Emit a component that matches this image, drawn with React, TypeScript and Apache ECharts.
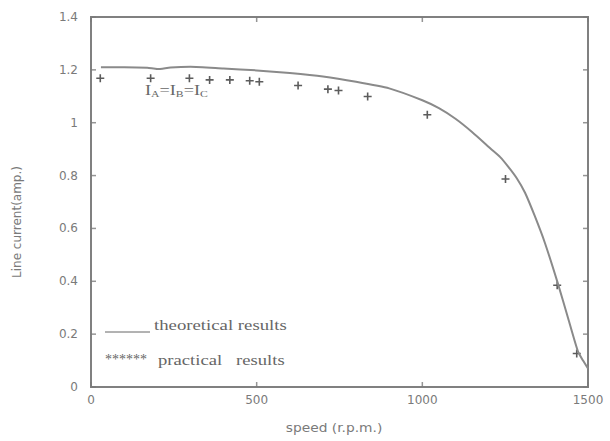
import React, { useEffect, useRef } from "react";
import * as echarts from "echarts";

const practicalSpeed = [28, 180, 297, 358, 419, 479, 508, 625, 715, 747, 835, 1015, 1251, 1407, 1466];
const practicalCurrent = [1.168, 1.168, 1.168, 1.162, 1.162, 1.159, 1.155, 1.141, 1.127, 1.122, 1.099, 1.03, 0.787, 0.385, 0.127];

const theoreticalSpeed = [30, 100, 170, 200, 240, 300, 400, 500, 600, 700, 800, 900, 1000, 1050, 1100, 1150, 1208, 1235, 1259, 1285, 1310, 1339, 1370, 1409, 1440, 1469, 1485, 1500];
const theoreticalCurrent = [1.21, 1.21, 1.208, 1.203, 1.209, 1.212, 1.205, 1.198, 1.188, 1.175, 1.155, 1.13, 1.085, 1.055, 1.015, 0.965, 0.9, 0.87, 0.834, 0.79, 0.735, 0.648, 0.545, 0.392, 0.26, 0.137, 0.1, 0.07];

const xMin = 0, xMax = 1500, xStep = 500;
const yMin = 0, yMax = 1.4, yStep = 0.2;
const xTickValues = [0, 500, 1000, 1500];
const yTickValues = [0, 0.2, 0.4, 0.6, 0.8, 1, 1.2, 1.4];

const xName = "speed (r.p.m.)";
const yName = "Line current(amp.)";
const legendLine = "theoretical results";
const legendStars = "******";
const legendStar = "practical   results";

const sans = "'DejaVu Sans', Arial, sans-serif";
const serif = "'Liberation Serif', 'DejaVu Serif', serif";

export default function App() {
  const ref = useRef<HTMLDivElement>(null);
  useEffect(() => {
    if (!ref.current) return;
    const chart = echarts.init(ref.current, null, { renderer: "svg" });
    const label = { color: "#7a7a7a", fontFamily: sans, fontSize: 12 };
    const tickLen = 5;
    const tickColor = "#7a7a7a";
    const tickSeries = (data: number[][], size: number[], offset: number[]) => ({
      type: "scatter",
      silent: true,
      clip: false,
      z: 5,
      symbol: "rect",
      symbolSize: size,
      symbolOffset: offset,
      itemStyle: { color: tickColor },
      data,
    });
    const option: any = {
      animation: false,
      backgroundColor: "#fff",
      grid: { left: 91, right: 22, top: 17, bottom: 54, containLabel: false, show: true, borderColor: "#808080", borderWidth: 2 },
      xAxis: {
        type: "value", min: xMin, max: xMax, interval: xStep,
        axisLine: { show: false }, axisTick: { show: false }, splitLine: { show: false },
        axisLabel: { ...label, margin: 7, formatter: (v: number) => String(v) },
      },
      yAxis: {
        type: "value", min: yMin, max: yMax, interval: yStep,
        axisLine: { show: false }, axisTick: { show: false }, splitLine: { show: false },
        axisLabel: { ...label, margin: 13 },
      },
      series: [
        tickSeries(xTickValues.map((v) => [v, yMin]), [1.5, tickLen], [0, -tickLen / 2]),
        tickSeries(xTickValues.map((v) => [v, yMax]), [1.5, tickLen], [0, tickLen / 2]),
        tickSeries(yTickValues.map((v) => [xMin, v]), [tickLen, 1.5], [tickLen / 2, 0]),
        tickSeries(yTickValues.map((v) => [xMax, v]), [tickLen, 1.5], [-tickLen / 2, 0]),
        {
          type: "line",
          data: theoreticalSpeed.map((s, i) => [s, theoreticalCurrent[i]]),
          showSymbol: false,
          smooth: 0.2,
          lineStyle: { color: "#8a8a8a", width: 2 },
        },
        {
          type: "scatter",
          data: practicalSpeed.map((s, i) => [s, practicalCurrent[i]]),
          symbol: "path://M4,0 L6,0 L6,4 L10,4 L10,6 L6,6 L6,10 L4,10 L4,6 L0,6 L0,4 L4,4 Z",
          symbolSize: 8,
          itemStyle: { color: "#333" },
        },
      ],
      graphic: [
        {
          type: "text", x: 334, y: 428, scaleX: 1.15,
          style: { text: xName, fill: "#7a7a7a", font: "12px " + sans, align: "center", verticalAlign: "middle" },
        },
        {
          type: "text", x: 17, y: 222, rotation: Math.PI / 2,
          style: { text: yName, fill: "#7a7a7a", font: "12px " + sans, align: "center", verticalAlign: "middle" },
        },
        {
          type: "line",
          shape: { x1: 105, y1: 332, x2: 150, y2: 332 },
          style: { stroke: "#666", lineWidth: 1 },
        },
        {
          type: "text", x: 154, y: 325, scaleX: 1.34,
          style: { text: legendLine, fill: "#666", font: "14px " + serif, verticalAlign: "middle" },
        },
        {
          type: "text", x: 105, y: 359,
          style: { text: legendStars, fill: "#666", font: "14px " + serif, verticalAlign: "middle" },
        },
        {
          type: "text", x: 158, y: 360, scaleX: 1.33,
          style: { text: legendStar, fill: "#666", font: "14px " + serif, verticalAlign: "middle" },
        },
        {
          type: "text", x: 145, y: 91, scaleX: 1.3,
          style: {
            text: "I{s|A}=I{s|B}=I{s|C}",
            fill: "#666",
            font: "14px " + serif,
            verticalAlign: "middle",
            rich: {
              s: { fontSize: 9, fill: "#666", fontFamily: "Liberation Serif, serif", verticalAlign: "bottom", padding: [6, 0, 0, 0] },
            },
          },
        },
      ],
    };
    chart.setOption(option);
    return () => chart.dispose();
  }, []);
  return <div ref={ref} style={{ position: "absolute", left: 0, top: 0, width: 610, height: 441 }} />;
}
